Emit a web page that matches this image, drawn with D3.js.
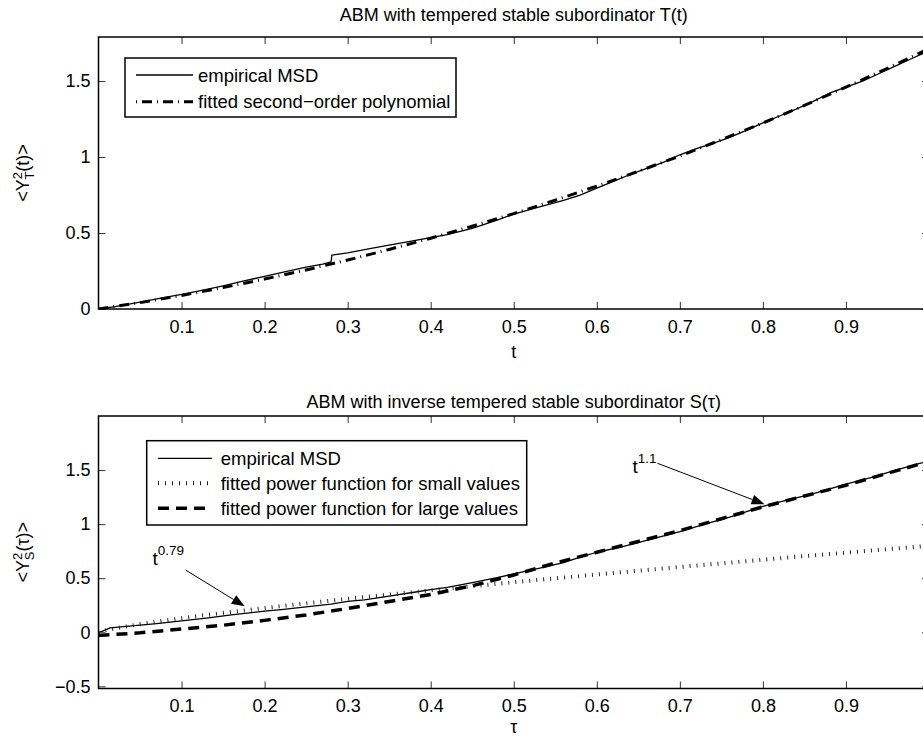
<!DOCTYPE html>
<html><head><meta charset="utf-8">
<script src="https://cdn.jsdelivr.net/npm/d3@7"></script>
<style>
body{margin:0;background:#fff}
svg{display:block}
text{font-family:"Liberation Sans",Arial,Helvetica,sans-serif;fill:#000}
</style>
</head><body>
<svg id="c" width="923" height="740"></svg>
<script>
// ---------- data ----------
const xTicks = [0.1,0.2,0.3,0.4,0.5,0.6,0.7,0.8,0.9];
const xTickLabels = ["0.1","0.2","0.3","0.4","0.5","0.6","0.7","0.8","0.9"];
const topYTicks = [0,0.5,1,1.5];
const topYTickLabels = ["0","0.5","1","1.5"];
const botYTicks = [-0.5,0,0.5,1,1.5];
const botYTickLabels = ["\u22120.5","0","0.5","1","1.5"];

// top panel: empirical MSD
const topEmpT = [0,0.02,0.05,0.08,0.1,0.12,0.15,0.17,0.2,0.22,0.25,0.27,0.28,0.281,0.3,0.33,0.36,0.39,0.42,0.45,0.48,0.5,0.53,0.56,0.58,0.6,0.62,0.64,0.66,0.68,0.7,0.72,0.74,0.76,0.78,0.8,0.82,0.84,0.86,0.88,0.9,0.92,0.94,0.96,0.98,1.0];
const topEmpY = [0,0.016,0.045,0.077,0.096,0.118,0.152,0.178,0.215,0.24,0.275,0.295,0.31,0.355,0.37,0.4,0.43,0.46,0.49,0.53,0.585,0.625,0.67,0.715,0.75,0.795,0.84,0.885,0.925,0.965,1.015,1.055,1.09,1.13,1.175,1.225,1.27,1.315,1.365,1.42,1.46,1.5,1.55,1.6,1.65,1.7];
// top panel: fitted second-order polynomial
const topFitT = [0,0.05,0.1,0.15,0.2,0.25,0.3,0.35,0.4,0.45,0.5,0.55,0.6,0.65,0.7,0.75,0.8,0.85,0.9,0.95,1.0];
const topFitY = [0,0.042,0.089,0.141,0.197,0.257,0.322,0.392,0.466,0.545,0.628,0.716,0.809,0.906,1.007,1.114,1.224,1.34,1.46,1.584,1.713];

// bottom panel: empirical MSD
const botEmpT = [0,0.005,0.014,0.04,0.07,0.1,0.13,0.16,0.2,0.22,0.25,0.28,0.3,0.32,0.35,0.38,0.4,0.42,0.45,0.48,0.5,0.53,0.56,0.58,0.6,0.63,0.66,0.7,0.73,0.76,0.8,0.83,0.86,0.9,0.93,0.96,0.99,1.0];
const botEmpY = [0,0.01,0.04,0.06,0.08,0.105,0.13,0.16,0.195,0.21,0.235,0.26,0.285,0.3,0.335,0.37,0.395,0.415,0.46,0.505,0.54,0.59,0.645,0.695,0.74,0.79,0.85,0.93,1.0,1.065,1.165,1.225,1.28,1.37,1.43,1.5,1.565,1.58];
// bottom panel: fitted power function for small values (t^0.79)
const botSmallT = [0,0.005,0.01,0.02,0.05,0.1,0.15,0.2,0.25,0.3,0.35,0.4,0.45,0.5,0.55,0.6,0.65,0.7,0.75,0.8,0.85,0.9,0.95,1.0];
const botSmallY = [0,0.012,0.021,0.036,0.075,0.13,0.179,0.224,0.268,0.309,0.349,0.388,0.426,0.463,0.499,0.534,0.569,0.604,0.637,0.671,0.704,0.736,0.768,0.8];
// bottom panel: fitted power function for large values (t^1.1)
const botLargeT = [0,0.05,0.1,0.15,0.2,0.25,0.3,0.35,0.4,0.45,0.5,0.55,0.6,0.65,0.7,0.75,0.8,0.85,0.9,0.95,1.0];
const botLargeY = [-0.03,-0.005,0.03,0.065,0.11,0.16,0.22,0.285,0.35,0.43,0.53,0.64,0.74,0.84,0.94,1.05,1.16,1.26,1.36,1.47,1.58];

// ---------- drawing ----------
const svg = d3.select("#c");
svg.append("rect").attr("width",923).attr("height",740).attr("fill","#fff");
const FS = 18, LFS = 18.5;
const xLeft = 98.5, xRight = 929;

function zip(a,b){ return a.map((v,i)=>[v,b[i]]); }

function panel(o){
  const x = d3.scaleLinear().domain([0,1]).range([xLeft,xRight]);
  const y = d3.scaleLinear().domain(o.yDomain).range([o.bottom,o.top]);
  const g = svg.append("g");
  const cid = "clip"+o.id;
  svg.append("clipPath").attr("id",cid).append("rect")
    .attr("x",xLeft).attr("y",o.top).attr("width",xRight-xLeft).attr("height",o.bottom-o.top);

  const line = d3.line().x(d=>x(d[0])).y(d=>y(d[1]));
  const lg = g.append("g").attr("clip-path",`url(#${cid})`);
  o.series.forEach(s=>{
    lg.append("path").datum(zip(s.t,s.v)).attr("d",line)
      .attr("fill","none").attr("stroke",s.c||"#000")
      .attr("stroke-width",s.w).attr("stroke-dasharray",s.dash||null)
      .attr("stroke-linejoin","round");
  });

  const styleAx = sel=>{
    sel.select(".domain").remove();
    sel.selectAll(".tick line").attr("stroke","#333").attr("stroke-width",1);
    sel.selectAll(".tick text").style("font-size",FS+"px")
      .style("font-family","'Liberation Sans',Arial,sans-serif").attr("fill","#000");
  };
  g.append("g").attr("transform",`translate(0,${o.bottom})`)
    .call(d3.axisBottom(x).tickValues(xTicks).tickSize(-7).tickPadding(11)
      .tickFormat((d,i)=>xTickLabels[i])).call(styleAx);
  g.append("g").attr("transform",`translate(0,${o.top})`)
    .call(d3.axisTop(x).tickValues(xTicks).tickSize(-7).tickFormat("")).call(styleAx);
  g.append("g").attr("transform",`translate(${xLeft},0)`)
    .call(d3.axisLeft(y).tickValues(o.yTicks).tickSize(-7).tickPadding(8)
      .tickFormat((d,i)=>o.yLabels[i])).call(styleAx);
  g.append("g").attr("transform",`translate(${xRight},0)`)
    .call(d3.axisRight(y).tickValues(o.yTicks).tickSize(-7).tickFormat("")).call(styleAx);

  g.append("rect").attr("x",xLeft).attr("y",o.top).attr("width",xRight-xLeft)
    .attr("height",o.bottom-o.top).attr("fill","none").attr("stroke","#000").attr("stroke-width",1.5);

  g.append("text").attr("x",(xLeft+xRight)/2).attr("y",o.titleY)
    .attr("text-anchor","middle").style("font-size",FS+"px").text(o.title);
  g.append("text").attr("x",(xLeft+xRight)/2).attr("y",o.xLabelY)
    .attr("text-anchor","middle").style("font-size",FS+"px").text(o.xLabel);

  const cy = (o.top+o.bottom)/2;
  const yl = g.append("text").attr("transform",`translate(${o.yLabelX},${cy}) rotate(-90)`)
    .attr("text-anchor","middle").style("font-size",FS+"px");
  yl.append("tspan").text("<Y");
  yl.append("tspan").attr("dy",-7).style("font-size","13px").text("2");
  yl.append("tspan").attr("dx",-7.5).attr("dy",12).style("font-size","13px").text(o.sub);
  yl.append("tspan").attr("dy",-5).text(o.arg+">");

  const L = o.legend;
  g.append("rect").attr("x",L.x).attr("y",L.y).attr("width",L.w).attr("height",L.h)
    .attr("fill","#fff").attr("stroke","#000").attr("stroke-width",1.5);
  L.items.forEach((it,i)=>{
    const yy = L.row0 + i*L.dy;
    g.append("line").attr("x1",L.lx0).attr("x2",L.lx1).attr("y1",yy).attr("y2",yy)
      .attr("stroke",it.c||"#000").attr("stroke-width",it.w).attr("stroke-dasharray",it.dash||null);
    g.append("text").attr("x",L.tx).attr("y",yy+6.5).style("font-size",LFS+"px").text(it.label);
  });

  (o.ann||[]).forEach(a=>{
    const x0=x(a.from[0]), y0=y(a.from[1]), x1=x(a.to[0]), y1=y(a.to[1]);
    const ang = Math.atan2(y1-y0,x1-x0);
    const hl=13, hw=5;
    const bx = x1-hl*Math.cos(ang), by = y1-hl*Math.sin(ang);
    g.append("line").attr("x1",x0).attr("y1",y0).attr("x2",bx).attr("y2",by)
      .attr("stroke","#000").attr("stroke-width",1);
    const p = [[x1,y1],[bx+hw*Math.sin(ang),by-hw*Math.cos(ang)],[bx-hw*Math.sin(ang),by+hw*Math.cos(ang)]];
    g.append("path").attr("d","M"+p.map(q=>q.join(",")).join("L")+"Z").attr("fill","#000");
    const t = g.append("text").attr("x",x(a.text[0])).attr("y",y(a.text[1])).style("font-size","19px");
    t.append("tspan").text("t");
    t.append("tspan").attr("dy",-10).style("font-size","13.5px").text(a.exp);
  });
}

panel({
  id:"a", top:37, bottom:309, yDomain:[0,1.79], yTicks:topYTicks, yLabels:topYTickLabels,
  title:"ABM with tempered stable subordinator T(t)", titleY:21,
  xLabel:"t", xLabelY:358, yLabelX:29, sub:"T", arg:"(t)",
  series:[
    {t:topEmpT, v:topEmpY, w:1.3},
    {t:topFitT, v:topFitY, w:3, dash:"10,5,1,5"}
  ],
  legend:{x:125,y:58,w:331,h:59,row0:75,dy:26.7,lx0:136,lx1:193,tx:198,
    items:[{label:"empirical MSD",w:1.3},{label:"fitted second\u2212order polynomial",w:3,dash:"1,5,10,5"}]}
});

panel({
  id:"b", top:416, bottom:688.5, yDomain:[-0.52,2.0], yTicks:botYTicks, yLabels:botYTickLabels,
  title:"ABM with inverse tempered stable subordinator S(\u03C4)", titleY:408,
  xLabel:"\u03C4", xLabelY:733, yLabelX:29, sub:"S", arg:"(\u03C4)",
  series:[
    {t:botEmpT, v:botEmpY, w:1.3},
    {t:botSmallT, v:botSmallY, w:4, dash:"1,6", c:"#222"},
    {t:botLargeT, v:botLargeY, w:3.5, dash:"11,7"}
  ],
  legend:{x:146.7,y:440.7,w:380,h:84.3,row0:458.3,dy:25,lx0:158,lx1:212,tx:220.7,
    items:[{label:"empirical MSD",w:1.3},{label:"fitted power function for small values",w:4,dash:"1,6",c:"#222"},
           {label:"fitted power function for large values",w:3.5,dash:"11,7"}]},
  ann:[
    {from:[0.105,0.575], to:[0.176,0.24], text:[0.065,0.62], exp:"0.79"},
    {from:[0.673,1.563], to:[0.802,1.184], text:[0.643,1.47], exp:"1.1"}
  ]
});
</script>
</body></html>
